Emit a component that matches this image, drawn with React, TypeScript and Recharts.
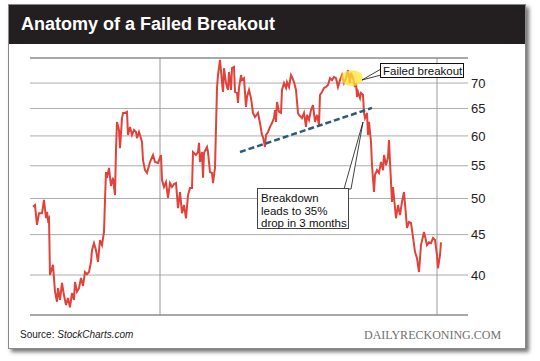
import { LineChart, Line, XAxis, YAxis, CartesianGrid, ReferenceLine, ReferenceDot } from "recharts"

// trading day index (roughly one per pixel of the original chart)
const days = [
  0, 2, 4, 6, 9, 11, 13, 14, 15, 16, 17, 19, 20, 22, 24, 25, 27, 29, 31, 33, 35, 37, 39, 41, 42, 44, 46, 48, 50, 52,
  54, 56, 58, 59, 61, 63, 65, 67, 69, 71, 72, 73, 74, 76, 78, 80, 82, 83, 84, 86, 87, 89, 90, 92, 94, 95, 97, 99, 101, 103,
  104, 106, 107, 109, 110, 112, 114, 117, 120, 122, 125, 128, 129, 131, 133, 135, 137, 139, 141, 143, 145, 147, 149, 151, 153, 155, 157, 159, 160, 163,
  165, 166, 167, 169, 170, 171, 174, 175, 177, 179, 180, 182, 184, 185, 187, 189, 190, 191, 193, 195, 196, 198, 199, 201, 202, 204, 205, 206, 208, 209,
  211, 213, 214, 216, 218, 220, 222, 225, 227, 229, 230, 232, 233, 235, 237, 239, 241, 242, 243, 244, 246, 248, 249, 251, 253, 254, 256, 258, 259, 261,
  263, 265, 266, 269, 271, 273, 274, 276, 278, 280, 282, 284, 286, 287, 289, 291, 293, 295, 297, 299, 301, 303, 305, 307, 309, 311, 313, 315, 317, 318,
  320, 322, 323, 324, 325, 327, 328, 330, 331, 332, 334, 335, 336, 338, 339, 341, 342, 344, 346, 348, 350, 351, 353, 355, 356, 357, 359, 360, 363, 365,
  367, 369, 371, 374, 376, 378, 380, 382, 384, 386, 388, 391, 394, 396, 398, 400, 402, 404, 405, 407, 408, 409,
]

const prices = [
  48.8, 49.05, 46.3, 47.9, 47.9, 49.8, 47.2, 48.1, 46.95, 47.2, 40.0, 40.8, 41.2, 38.1, 37.0, 38.5, 37.2, 39.1, 37.7, 36.65,
  37.4, 36.4, 37.95, 37.2, 39.2, 38.1, 38.5, 39.65, 38.75, 40.35, 40.1, 40.35, 41.55, 43.0, 43.9, 43.0, 41.55, 44.3, 43.65, 45.35,
  49.8, 54.0, 53.1, 54.65, 51.85, 53.1, 50.5, 57.6, 62.5, 61.05, 57.9, 63.2, 64.15, 64.15, 64.35, 60.15, 61.6, 60.15, 61.05, 60.7,
  59.6, 60.7, 60.15, 58.95, 55.9, 54.3, 53.85, 55.6, 56.75, 55.6, 55.45, 56.75, 52.75, 51.7, 52.45, 50.1, 52.3, 51.7, 52.15, 52.3,
  48.6, 50.95, 47.9, 49.05, 47.2, 50.5, 51.55, 51.55, 57.25, 56.75, 57.25, 58.8, 55.6, 57.25, 53.1, 57.1, 58.1, 57.25, 54.0, 53.85,
  52.3, 54.65, 69.0, 71.65, 74.9, 70.2, 68.2, 73.1, 70.0, 68.6, 72.3, 68.6, 73.1, 73.35, 68.2, 68.0, 66.05, 69.0, 71.65, 70.6,
  71.0, 65.3, 67.2, 68.6, 67.0, 64.15, 63.4, 64.15, 62.3, 60.15, 59.8, 58.1, 60.15, 60.7, 61.6, 62.3, 63.2, 64.7, 62.5, 66.25,
  64.35, 64.15, 68.6, 70.0, 69.0, 70.2, 69.2, 71.65, 71.25, 70.2, 68.6, 64.15, 63.8, 63.2, 64.15, 61.6, 63.8, 62.85, 64.7, 65.65,
  62.5, 63.8, 61.95, 67.6, 68.2, 69.0, 69.2, 69.6, 71.0, 70.6, 71.25, 71.0, 69.2, 70.6, 71.65, 70.0, 71.0, 72.7, 70.0, 72.1,
  71.0, 69.2, 70.0, 67.2, 68.2, 67.0, 68.0, 67.6, 64.15, 63.2, 64.15, 60.15, 62.5, 58.95, 55.1, 50.95, 53.55, 54.3, 53.85, 55.6,
  54.3, 56.75, 55.1, 56.4, 59.3, 55.6, 49.5, 51.7, 47.2, 49.05, 47.65, 49.5, 50.95, 45.9, 46.7, 46.55, 44.7, 42.8, 42.0, 40.35,
  43.65, 45.35, 43.65, 44.0, 43.9, 44.55, 44.3, 42.4, 40.8, 42.4, 44.0,
]

const priceTicks = [40, 45, 50, 55, 60, 65, 70]
const yDomain = [35.6, 75.3]
const monthLines = [127, 404]
// support trendline end points: [day, price]
const trendStart = [207, 57.25]
const trendEnd = [339, 65.1]
const failedPoint = [319, 71.0]

const data = days.map((d, i) => ({ day: d, price: prices[i] }))

const font = "'Liberation Sans', Arial, Helvetica, sans-serif"

const Highlight = (props: any) => {
  const { cx, cy } = props
  if (cx == null || cy == null) return null
  return <ellipse cx={cx} cy={cy} rx={11} ry={8} fill="#fde636" fillOpacity={0.75} />
}

export default function App() {
  return (
    <div style={{ position: "absolute", left: 0, top: 0, width: 540, height: 361, background: "#fff", fontFamily: font }}>
      {/* card */}
      <div
        style={{
          position: "absolute",
          left: 8,
          top: 4,
          width: 516,
          height: 343,
          border: "1px solid #8a8a8a",
          background: "#fff",
          boxShadow: "3px 3px 4px rgba(0,0,0,0.55)",
        }}
      />
      <div style={{ position: "absolute", left: 9, top: 5, width: 516, height: 39, background: "#231f20" }} />
      <div
        style={{
          position: "absolute",
          left: 21,
          top: 13,
          color: "#fff",
          fontWeight: "bold",
          fontSize: 18,
          lineHeight: "22px",
          whiteSpace: "nowrap",
        }}
      >
        Anatomy of a Failed Breakout
      </div>

      <div style={{ position: "absolute", left: 0, top: 0 }}>
        <LineChart width={540} height={361} data={data} margin={{ top: 58, right: 32, bottom: 46, left: 30 }}>
          <CartesianGrid horizontal vertical={false} stroke="#adadad" strokeWidth={1} />
          <XAxis type="number" dataKey="day" domain={[-3, 435]} hide />
          <YAxis
            orientation="right"
            width={40}
            scale="log"
            domain={yDomain}
            allowDataOverflow
            ticks={priceTicks}
            tickLine={false}
            axisLine={false}
            tickSize={0}
            tickMargin={3}
            tick={{ fontSize: 13, fill: "#222", fontFamily: font }}
          />
          {monthLines.map((m) => (
            <ReferenceLine key={m} x={m} stroke="#9a9a9a" strokeWidth={1} />
          ))}
          <ReferenceLine y={yDomain[1]} stroke="#7a7a7a" strokeWidth={1} />
          <ReferenceLine y={yDomain[0]} stroke="#7a7a7a" strokeWidth={1} />
          <Line
            type="linear"
            dataKey="price"
            stroke="#e0433a"
            strokeWidth={2}
            dot={false}
            isAnimationActive={false}
          />
          <ReferenceLine
            segment={[
              { x: trendStart[0], y: trendStart[1] },
              { x: trendEnd[0], y: trendEnd[1] },
            ]}
            stroke="#2d5a78"
            strokeWidth={2.5}
            strokeDasharray="6 3"
          />
          <ReferenceDot x={failedPoint[0]} y={failedPoint[1]} r={10} shape={Highlight} />
        </LineChart>
      </div>

      {/* callouts */}
      <svg width={540} height={361} style={{ position: "absolute", left: 0, top: 0, pointerEvents: "none" }}>
        <polygon points="381,69 362,80 381,75" fill="#fff" stroke="#111" strokeWidth={0.8} />
        <rect x={380.5} y={63.5} width={83} height={14} fill="#fff" stroke="#111" strokeWidth={1} />
        <text x={383} y={74.5} fontSize={11.5} fill="#111" fontFamily={font}>
          Failed breakout
        </text>

        <polygon points="344,189 363,122 351,189" fill="#fff" stroke="#111" strokeWidth={0.8} />
        <rect x={257.5} y={188.5} width={91} height={40} fill="#fff" stroke="#444" strokeWidth={1} />
        <text fontSize={11.5} fill="#111" fontFamily={font}>
          <tspan x={261} y={202}>Breakdown</tspan>
          <tspan x={261} y={214.5}>leads to 35%</tspan>
          <tspan x={261} y={227}>drop in 3 months</tspan>
        </text>
      </svg>

      {/* footer */}
      <div style={{ position: "absolute", left: 20, top: 329, fontSize: 10, color: "#222", whiteSpace: "nowrap" }}>
        Source: <i>StockCharts.com</i>
      </div>
      <div
        style={{
          position: "absolute",
          left: 364,
          top: 328,
          fontSize: 12,
          color: "#707070",
          fontFamily: "'Liberation Serif', 'DejaVu Serif', serif",
          whiteSpace: "nowrap",
        }}
      >
        DAILYRECKONING.COM
      </div>
    </div>
  )
}
